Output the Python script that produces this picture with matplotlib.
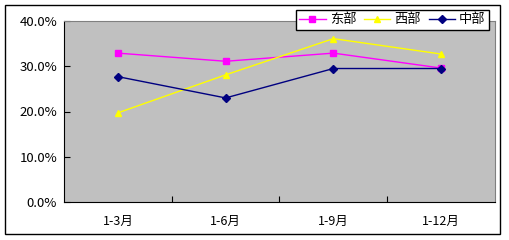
import matplotlib
matplotlib.use("Agg")
import matplotlib.pyplot as plt
from matplotlib.patches import Rectangle
from matplotlib.ticker import FixedLocator, PercentFormatter

plt.rcParams['font.family'] = ['Noto Sans CJK SC', 'DejaVu Sans']

# data
periods = ["1-3月", "1-6月", "1-9月", "1-12月"]
east = [32.9, 31.1, 32.9, 29.6]
west = [19.7, 28.1, 36.1, 32.7]
central = [27.7, 23.0, 29.5, 29.5]

fig = plt.figure(figsize=(5.1, 2.4), dpi=100)

# outer chart frame
fig.patches.append(Rectangle((5 / 510, 1 - 234 / 240), 495 / 510, 229 / 240,
                             transform=fig.transFigure, fill=False,
                             edgecolor="black", linewidth=1))

ax = fig.add_axes([64 / 510, 1 - 202 / 240, 431 / 510, 181 / 240])
ax.set_facecolor("#C0C0C0")

x = range(len(periods))
ax.plot(x, east, color="#FF00FF", marker="s", markersize=5, linewidth=1, label="东部")
ax.plot(x, west, color="#FFFF00", marker="^", markersize=5, linewidth=1, label="西部")
ax.plot(x, central, color="#000080", marker="D", markersize=4, linewidth=1, label="中部")

ax.set_xlim(-0.5, len(periods) - 0.5)
ax.set_ylim(0, 40)
ax.set_yticks([0, 10, 20, 30, 40])
ax.yaxis.set_major_formatter(PercentFormatter(decimals=1))
ax.set_xticks(list(x))
ax.set_xticklabels(periods)
ax.xaxis.set_minor_locator(FixedLocator([0.5, 1.5, 2.5]))
ax.tick_params(axis="x", which="major", length=0, pad=9, labelsize=9)
ax.tick_params(axis="x", which="minor", length=4, direction="in", width=0.8)
ax.tick_params(axis="y", length=4, direction="in", width=0.8, pad=5, labelsize=9.5)

for side in ["top", "right"]:
    ax.spines[side].set_color("#808080")
for side in ["left", "bottom"]:
    ax.spines[side].set_color("black")

leg = fig.legend(loc="upper left", bbox_to_anchor=(296 / 510, 1 - 10 / 240),
                 ncol=3, frameon=True, fancybox=False, edgecolor="black",
                 framealpha=1, fontsize=9.5, handlelength=2.0, handletextpad=0.3,
                 columnspacing=0.6, borderpad=0.25, borderaxespad=0)
leg.get_frame().set_linewidth(1)

fig.savefig("out.png", dpi=100)
